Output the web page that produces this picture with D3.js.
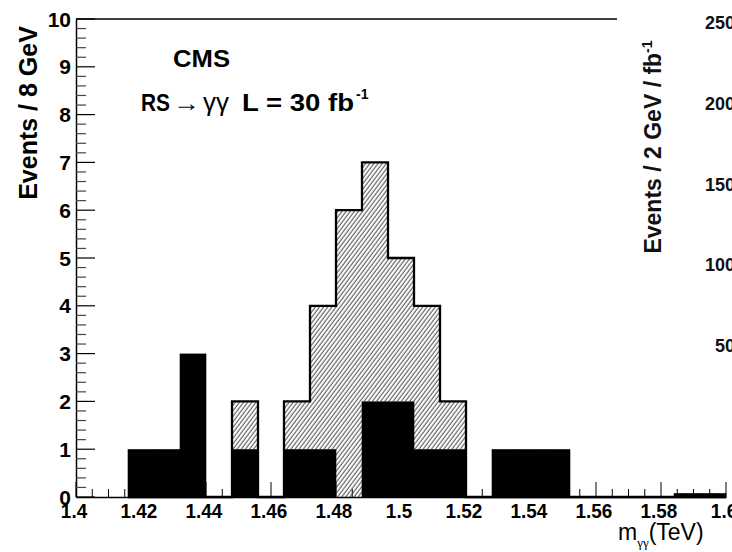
<!DOCTYPE html>
<html>
<head>
<meta charset="utf-8">
<script src="https://cdn.jsdelivr.net/npm/d3@7"></script>
<style>
  html, body { margin: 0; padding: 0; background: #fff; overflow: hidden; }
  svg { display: block; }
  text { font-family: "Liberation Sans", Arial, Helvetica, sans-serif; }
</style>
</head>
<body>
<svg id="chart" width="732" height="552"></svg>
<script>
// ---- data ----
const binLow = [1.416, 1.424, 1.432, 1.440, 1.448, 1.456, 1.464, 1.472, 1.480, 1.488,
                1.496, 1.504, 1.512, 1.520, 1.528, 1.536, 1.544, 1.552, 1.560, 1.568,
                1.576, 1.584, 1.592];
const binWidth = 0.008;
const background = [1, 1, 3, 0, 1, 0, 1, 1, 0, 2, 2, 1, 1, 0, 1, 1, 1, 0, 0, 0, 0, 0.08, 0.08];
const signal     = [0, 0, 0, 0, 1, 0, 1, 3, 6, 5, 3, 3, 1, 0, 0, 0, 0, 0, 0, 0, 0, 0, 0];
const xTicks = [1.4, 1.42, 1.44, 1.46, 1.48, 1.5, 1.52, 1.54, 1.56, 1.58, 1.6];
const xTickLabels = ["1.4", "1.42", "1.44", "1.46", "1.48", "1.5", "1.52", "1.54", "1.56", "1.58", "1.6"];
const yTicks = [0, 1, 2, 3, 4, 5, 6, 7, 8, 9, 10];
const rightTicks = [250, 200, 150, 100, 50];

// ---- layout ----
const svg = d3.select("#chart");
const x = d3.scaleLinear().domain([1.4, 1.6]).range([76, 726]);
const y = d3.scaleLinear().domain([0, 10]).range([497, 19]);
const yRight = d3.scaleLinear().domain([50, 250]).range([346, 23]);

// hatch pattern
const defs = svg.append("defs");
const pat = defs.append("pattern")
  .attr("id", "hatch").attr("patternUnits", "userSpaceOnUse")
  .attr("width", 3.3).attr("height", 10)
  .attr("patternTransform", "rotate(37)");
pat.append("line").attr("x1", 1).attr("y1", 0).attr("x2", 1).attr("y2", 10)
  .attr("stroke", "#333").attr("stroke-width", 0.9);

// ---- axes (drawn under the bars) ----
const xMinor = d3.range(0, 41).map(i => 1.4 + i * 0.005).filter(v => !xTicks.some(t => Math.abs(t - v) < 1e-9));
const xAxis = d3.axisBottom(x).tickValues(xTicks).tickSize(0).tickFormat("");
const gx = svg.append("g").attr("transform", `translate(0,${y(0)})`).call(xAxis);
gx.select(".domain").attr("stroke", "#000").attr("stroke-width", 1.5);
svg.append("g").selectAll("line").data(xTicks).join("line")
  .attr("x1", d => x(d)).attr("x2", d => x(d))
  .attr("y1", y(0)).attr("y2", y(0) - 15)
  .attr("stroke", "#000").attr("stroke-width", 1);
svg.append("g").selectAll("line").data(xMinor).join("line")
  .attr("x1", d => x(d)).attr("x2", d => x(d))
  .attr("y1", y(0)).attr("y2", y(0) - 8)
  .attr("stroke", "#000").attr("stroke-width", 1);

const yAxis = d3.axisLeft(y).tickValues(yTicks).tickSize(0).tickFormat("");
const gy = svg.append("g").attr("transform", `translate(${x(1.4)},0)`).call(yAxis);
gy.select(".domain").attr("stroke", "#000").attr("stroke-width", 1.5);
const yMinor = d3.range(0, 51).map(i => i * 0.2).filter(v => Math.abs(v - Math.round(v)) > 1e-6);
svg.append("g").selectAll("line").data(yTicks).join("line")
  .attr("x1", x(1.4)).attr("x2", x(1.4) + 19)
  .attr("y1", d => y(d)).attr("y2", d => y(d))
  .attr("stroke", "#000").attr("stroke-width", 1.2);
svg.append("g").selectAll("line").data(yMinor).join("line")
  .attr("x1", x(1.4)).attr("x2", x(1.4) + 10)
  .attr("y1", d => y(d)).attr("y2", d => y(d))
  .attr("stroke", "#444").attr("stroke-width", 1.2);

// top frame line
svg.append("line").attr("x1", x(1.4)).attr("x2", 617).attr("y1", y(10)).attr("y2", y(10))
  .attr("stroke", "#000").attr("stroke-width", 1.5);

// ---- bars ----
const bins = binLow.map((lo, i) => ({ lo, hi: lo + binWidth, bg: background[i], sig: signal[i] }));
svg.append("g").selectAll("rect").data(bins.filter(d => d.sig > 0)).join("rect")
  .attr("x", d => x(d.lo)).attr("width", d => x(d.hi) - x(d.lo))
  .attr("y", d => y(d.bg + d.sig)).attr("height", d => y(d.bg) - y(d.bg + d.sig))
  .attr("fill", "url(#hatch)");
svg.append("g").selectAll("rect").data(bins.filter(d => d.bg > 0)).join("rect")
  .attr("x", d => x(d.lo) - 0.3).attr("width", d => x(d.hi) - x(d.lo) + 0.6)
  .attr("y", d => y(d.bg)).attr("height", d => y(0) - y(d.bg))
  .attr("fill", "#000");

// outline of the stacked total where signal exists
const pts = [];
bins.forEach(d => {
  const t = d.sig > 0 ? d.bg + d.sig : 0;
  pts.push([x(d.lo), y(t)], [x(d.hi), y(t)]);
});
svg.append("path")
  .attr("d", d3.line()(pts))
  .attr("fill", "none").attr("stroke", "#000").attr("stroke-width", 2.3)
  .attr("stroke-linejoin", "miter");

// ---- tick labels ----
svg.append("g").selectAll("text").data(xTicks).join("text")
  .attr("transform", d => `translate(${x(d) - 2},518) scale(0.9,1)`)
  .attr("text-anchor", "middle").attr("font-weight", "bold").attr("font-size", 21)
  .text((d, i) => xTickLabels[i]);
svg.append("g").selectAll("text").data(yTicks).join("text")
  .attr("x", 71).attr("y", d => y(d) + 7.5)
  .attr("text-anchor", "end").attr("font-weight", "bold").attr("font-size", 21)
  .text(d => d);

// right-hand axis labels (cropped panel)
svg.append("g").selectAll("text").data(rightTicks).join("text")
  .attr("x", 735).attr("y", d => yRight(d) + 6)
  .attr("text-anchor", "end").attr("font-weight", "bold").attr("font-size", 18)
  .attr("fill", "#111")
  .text(d => d);

// ---- titles ----
svg.append("text")
  .attr("transform", "translate(37,113) rotate(-90)")
  .attr("text-anchor", "middle").attr("font-weight", "bold").attr("font-size", 25)
  .text("Events / 8 GeV");

const rl = svg.append("text")
  .attr("transform", "translate(661,147) rotate(-90)")
  .attr("text-anchor", "middle").attr("font-size", 23).attr("font-weight", "bold").attr("fill", "#111");
rl.append("tspan").text("Events / 2 GeV / fb");
rl.append("tspan").attr("dy", -9).attr("font-size", 14).text("-1");

svg.append("text").attr("x", 173).attr("y", 67)
  .attr("font-weight", "bold").attr("font-size", 24)
  .attr("textLength", 57).attr("lengthAdjust", "spacingAndGlyphs").text("CMS");

// RS -> gamma gamma  L = 30 fb^-1
svg.append("text").attr("x", 141).attr("y", 111)
  .attr("font-weight", "bold").attr("font-size", 23)
  .attr("textLength", 29).attr("lengthAdjust", "spacingAndGlyphs").text("RS");
svg.append("text").attr("x", 173).attr("y", 111)
  .attr("font-family", "Liberation Serif, serif").attr("font-size", 24)
  .attr("textLength", 27).attr("lengthAdjust", "spacingAndGlyphs").text("\u2192");
svg.append("text").attr("x", 203).attr("y", 111)
  .attr("font-family", "Liberation Serif, serif").attr("font-size", 25)
  .attr("textLength", 26).attr("lengthAdjust", "spacingAndGlyphs").text("\u03B3\u03B3");
svg.append("text").attr("x", 242).attr("y", 111)
  .attr("font-weight", "bold").attr("font-size", 24)
  .attr("textLength", 112).attr("lengthAdjust", "spacingAndGlyphs").text("L = 30 fb");
svg.append("text").attr("x", 356).attr("y", 99)
  .attr("font-weight", "bold").attr("font-size", 14).text("-1");

const xl = svg.append("text").attr("x", 618).attr("y", 540).attr("font-size", 23);
xl.append("tspan").text("m");
xl.append("tspan").attr("font-family", "Liberation Serif, serif").attr("font-size", 13).attr("dy", 7).text("\u03B3\u03B3");
xl.append("tspan").attr("dy", -7).text("(TeV)");
</script>
</body>
</html>
